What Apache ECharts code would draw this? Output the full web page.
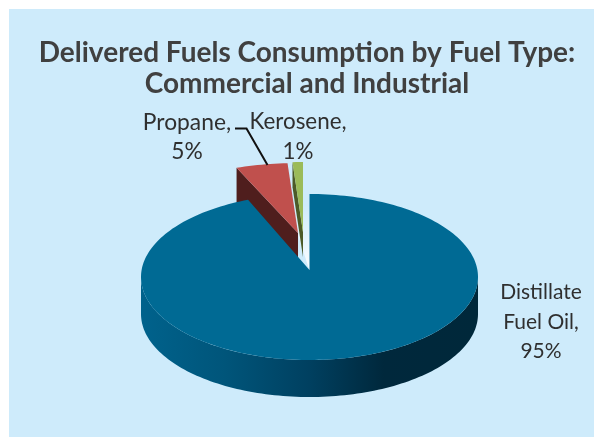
<!DOCTYPE html>
<html>
<head>
<meta charset="utf-8">
<style>html,body{margin:0;padding:0;background:#fff}#chart{width:594px;height:437px}</style>
<script src="https://cdn.jsdelivr.net/npm/echarts@6/dist/echarts.min.js"></script>
</head>
<body>
<div id="chart"></div>
<script>
// Shares printed on the slices, in percent
const fuelNames = ['Distillate\nFuel Oil', 'Propane', 'Kerosene'];
const fuelShares = [95, 5, 1];

const chartTitle = 'Delivered Fuels Consumption by Fuel Type:\nCommercial and Industrial';

const topColors = ['#006A94', '#C0504D', '#9BBB59'];
const cutColors = ['#003F5A', '#4F1E1D', '#4C5A28'];
const FONT = 'Lato, "Open Sans", sans-serif';

// Tilted-disc geometry of each slice: rim ellipse centre, radii, wedge tip, wall depth, label
const sliceLayout = [
  { cx: 309.5, cy: 277, rx: 168.5, ry: 83, tipX: 309.5, tipY: 270, depth: 37, z: 10,
    label: { x: 541, y: 322, size: 21 } },
  { cx: 298, cy: 233, rx: 168.5, ry: 70, tipX: 298, tipY: 233, depth: 37, z: 4,
    label: { x: 187, y: 137, size: 22.8 } },
  { cx: 303, cy: 232, rx: 168.5, ry: 70, tipX: 303, tipY: 232, depth: 25, z: 3,
    label: { x: 298, y: 137, size: 22.4 } }
];
const total = fuelShares.reduce((a, b) => a + b, 0);

function rim(l, deg, drop) {
  const t = deg * Math.PI / 180;
  return [l.cx + l.rx * Math.sin(t), l.cy - l.ry * Math.cos(t) + (drop || 0)];
}
function arc(l, from, to, drop) {
  const pts = [];
  const n = Math.max(2, Math.ceil(Math.abs(to - from) / 1.5));
  for (let i = 0; i <= n; i++) pts.push(rim(l, from + (to - from) * i / n, drop));
  return pts;
}

function renderSlice(params, api) {
  const i = params.dataIndex;
  const l = sliceLayout[i];
  let start = 0;
  for (let k = 0; k < i; k++) start += fuelShares[k] / total * 360;
  const end = start + api.value(0) / total * 360;
  const children = [];

  if (i === 0) {
    // Pale glow in the throat of the gap between the wedge and the disc
    children.push({
      type: 'polygon', z2: 1,
      shape: { points: [[l.tipX + 0.5, l.tipY + 2], [l.tipX, 205], [rim(l, end)[0] + 40, 205]] },
      style: { fill: new echarts.graphic.LinearGradient(0, 0, 0, 1, [
        { offset: 0, color: 'rgba(255,255,255,0)' },
        { offset: 1, color: 'rgba(255,255,255,0.95)' }
      ]) }
    });
    // Outer wall along the near half of the disc
    const wall = arc(l, 90, 270).concat(arc(l, 270, 90, l.depth));
    children.push({
      type: 'polygon', z2: l.z,
      shape: { points: wall },
      style: { fill: new echarts.graphic.LinearGradient(0, 0, 1, 0, [
        { offset: 0, color: '#00628C' },
        { offset: 0.25, color: '#00557A' },
        { offset: 0.5, color: '#004060' },
        { offset: 0.72, color: '#00283C' },
        { offset: 1, color: '#00283A' }
      ]) }
    });
  } else {
    // Cut face on the left side of a pulled-out wedge
    const c = rim(l, start);
    children.push({
      type: 'polygon', z2: l.z,
      shape: { points: [c, [l.tipX, l.tipY], [l.tipX, l.tipY + l.depth], [c[0], c[1] + l.depth]] },
      style: { fill: cutColors[i] }
    });
  }

  // Top face
  children.push({
    type: 'polygon', z2: l.z + 1,
    shape: { points: [[l.tipX, l.tipY]].concat(arc(l, start, end)) },
    style: { fill: topColors[i] }
  });

  children.push({
    type: 'text', z2: 20,
    style: {
      text: fuelNames[i] + ',\n' + api.value(0) + '%',
      x: l.label.x, y: l.label.y,
      align: 'center', verticalAlign: 'middle',
      font: l.label.size + 'px ' + FONT, lineHeight: 29.5, fill: '#2F2F2F'
    }
  });

  if (i === 1) {
    // Leader from the label down to the wedge
    children.push({
      type: 'polyline', z2: 20,
      shape: { points: [[235, 128.5], [246.5, 128.5], [267.5, 165]] },
      style: { stroke: '#111', lineWidth: 2, fill: 'none' }
    });
  }
  return { type: 'group', children };
}

const chart = echarts.init(document.getElementById('chart'), null, { renderer: 'canvas' });
chart.setOption({
  animation: false,
  backgroundColor: '#fff',
  graphic: [{
    type: 'rect', z: -10, silent: true,
    shape: { x: 9, y: 9, width: 585, height: 428 },
    style: { fill: '#CEEBFB' }
  }],
  title: {
    text: chartTitle, left: 302, top: 33, textAlign: 'center',
    textStyle: { fontFamily: FONT, fontSize: 28, fontWeight: 'bold', color: '#404040', lineHeight: 30.5 }
  },
  series: [{
    type: 'custom',
    coordinateSystem: 'none',
    renderItem: renderSlice,
    data: fuelShares.map(v => [v])
  }]
});
</script>
</body>
</html>
